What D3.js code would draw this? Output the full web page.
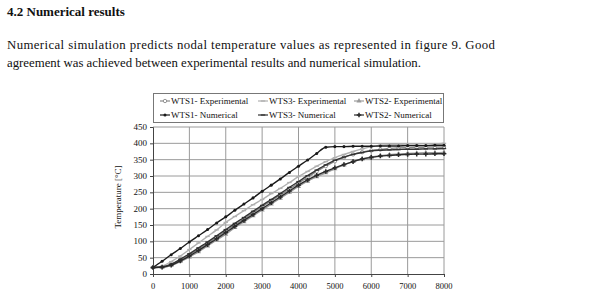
<!DOCTYPE html>
<html>
<head>
<meta charset="utf-8">
<script src="https://cdn.jsdelivr.net/npm/d3@7"></script>
<style>
  html, body { margin: 0; padding: 0; background: #fff; overflow: hidden; }
  svg { display: block; }
  text { font-family: "Liberation Serif", "Times New Roman", serif; fill: #111; }
</style>
</head>
<body>
<div id="chart"></div>
<script>
const times = [0, 250, 500, 750, 1000, 1250, 1500, 1750, 2000, 2250, 2500, 2750, 3000, 3250, 3500, 3750,
    4000, 4250, 4500, 4750, 5000, 5250, 5500, 5750, 6000, 6250, 6500, 6750, 7000, 7250, 7500, 7750, 8000]

const wts1Exp = [20, 21, 29, 43, 58, 76, 94, 112, 132, 150, 168, 188, 206, 224, 242, 260,
    278, 296, 314, 330, 345, 357, 366, 373, 378, 381, 384, 386, 387, 388, 388, 389, 389]
const wts3Exp = [20, 24, 38, 55, 75, 95, 115, 135, 158, 176, 194, 212, 228, 246, 262, 280,
    298, 314, 330, 344, 356, 366, 375, 383, 390, 394, 396, 397, 398, 398, 399, 399, 400]
const wts2Exp = [20, 20, 26, 38, 52, 68, 86, 104, 122, 142, 160, 178, 196, 214, 232, 250,
    268, 284, 298, 310, 322, 334, 344, 352, 358, 362, 365, 367, 369, 370, 371, 371, 372]
const wts1Num = [20, 39, 59, 78, 98, 117, 136, 156, 175, 195, 214, 233, 253, 272, 291, 311,
    330, 349, 369, 388, 390, 390, 391, 391, 391, 392, 392, 392, 393, 393, 393, 394, 394]
const wts3Num = [20, 22, 30, 45, 62, 80, 98, 117, 136, 155, 173, 192, 210, 228, 246, 265,
    283, 301, 318, 334, 348, 358, 366, 372, 377, 379, 380, 381, 382, 382, 383, 383, 384]
const wts2Num = [20, 21, 27, 40, 55, 72, 90, 108, 127, 146, 164, 182, 200, 218, 236, 254,
    272, 288, 302, 314, 325, 335, 344, 352, 357, 361, 363, 365, 366, 367, 367, 368, 368]

const xTicks = [0, 1000, 2000, 3000, 4000, 5000, 6000, 7000, 8000]
const yTicks = [0, 50, 100, 150, 200, 250, 300, 350, 400, 450]

const series = [
    { name: "WTS1- Experimental", values: wts1Exp, color: "#8a8a8a", marker: "circle" },
    { name: "WTS3- Experimental", values: wts3Exp, color: "#b0b0b0", marker: "dash" },
    { name: "WTS2- Experimental", values: wts2Exp, color: "#9a9a9a", marker: "tri" },
    { name: "WTS1- Numerical", values: wts1Num, color: "#1a1a1a", marker: "dot" },
    { name: "WTS3- Numerical", values: wts3Num, color: "#333", marker: "dash" },
    { name: "WTS2- Numerical", values: wts2Num, color: "#2a2a2a", marker: "plus" }
]

const width = 603
const height = 296
const margin = { top: 127, left: 153, right: 159, bottom: 22 }
const innerWidth = width - margin.left - margin.right
const innerHeight = height - margin.top - margin.bottom

const svg = d3.select("#chart")
    .append("svg")
    .attr("width", width)
    .attr("height", height)

// heading + paragraph
svg.append("text")
    .attr("x", 7).attr("y", 15.5)
    .style("font-size", "13px").style("font-weight", "bold")
    .text("4.2 Numerical results")
svg.append("text")
    .attr("x", 7).attr("y", 48.5)
    .attr("textLength", 488).attr("lengthAdjust", "spacing")
    .style("font-size", "12.8px")
    .text("Numerical simulation predicts nodal temperature values as represented in figure 9. Good")
svg.append("text")
    .attr("x", 7).attr("y", 66.5)
    .style("font-size", "12.8px")
    .text("agreement was achieved between experimental results and numerical simulation.")

const xScale = d3.scaleLinear().domain([0, 8000]).range([margin.left, margin.left + innerWidth])
const yScale = d3.scaleLinear().domain([0, 450]).range([margin.top + innerHeight, margin.top])

const g = svg.append("g")

// grid
g.append("g").selectAll("line")
    .data(xTicks.slice(1))
    .join("line")
    .attr("x1", d => xScale(d)).attr("x2", d => xScale(d))
    .attr("y1", margin.top).attr("y2", margin.top + innerHeight)
    .attr("stroke", "#9a9a9a").attr("stroke-width", 1)
g.append("g").selectAll("line")
    .data(yTicks.slice(1))
    .join("line")
    .attr("x1", margin.left).attr("x2", margin.left + innerWidth)
    .attr("y1", d => yScale(d)).attr("y2", d => yScale(d))
    .attr("stroke", "#9a9a9a").attr("stroke-width", 1)

// axes (lines + ticks from d3 axis, labels placed directly)
const xAxis = d3.axisBottom(xScale).tickValues(xTicks).tickFormat("").tickSize(3)
const yAxis = d3.axisLeft(yScale).tickValues(yTicks).tickFormat("").tickSize(3)

g.append("g")
    .attr("transform", `translate(0,${margin.top + innerHeight})`)
    .call(xAxis)
    .call(s => s.selectAll("line,path").attr("stroke", "#444"))
g.append("g")
    .attr("transform", `translate(${margin.left},0)`)
    .call(yAxis)
    .call(s => s.selectAll("line,path").attr("stroke", "#444"))

g.append("g").selectAll("text")
    .data(xTicks)
    .join("text")
    .attr("x", d => xScale(d))
    .attr("y", margin.top + innerHeight + 15)
    .attr("text-anchor", "middle")
    .style("font-size", "8.5px")
    .text(d3.format("d"))
g.append("g").selectAll("text")
    .data(yTicks)
    .join("text")
    .attr("x", margin.left - 6)
    .attr("y", d => yScale(d) + 3)
    .attr("text-anchor", "end")
    .style("font-size", "9px")
    .text(d => d)

svg.append("text")
    .attr("transform", `translate(121,${margin.top + 70}) rotate(-90)`)
    .attr("text-anchor", "middle")
    .style("font-size", "9px")
    .text("Temperature [°C]")

// markers
const drawMarker = (sel, type, color, size) => {
    if (type === "circle") {
        sel.append("circle").attr("r", size).attr("fill", "#fff").attr("stroke", color).attr("stroke-width", 0.9)
    } else if (type === "dot") {
        sel.append("circle").attr("r", size * 0.9).attr("fill", color)
    } else if (type === "dash") {
        sel.append("line").attr("x1", -size - 0.5).attr("x2", size + 0.5).attr("stroke", color).attr("stroke-width", 1.3)
    } else if (type === "tri") {
        sel.append("path").attr("d", d3.symbol(d3.symbolTriangle, size * size * 4)).attr("fill", color)
    } else if (type === "plus") {
        sel.append("path").attr("d", d3.symbol(d3.symbolCross, size * size * 4)).attr("fill", color)
    }
}

const line = d3.line()
    .x((d, i) => xScale(times[i]))
    .y(d => yScale(d))
    .curve(d3.curveMonotoneX)

series.forEach(s => {
    g.append("path")
        .datum(s.values)
        .attr("d", line)
        .attr("fill", "none")
        .attr("stroke", s.color)
        .attr("stroke-width", 1.4)
    g.append("g").selectAll("g")
        .data(s.values)
        .join("g")
        .attr("transform", (d, i) => `translate(${xScale(times[i])},${yScale(d)})`)
        .each(function () { drawMarker(d3.select(this), s.marker, s.color, 1.7) })
})

// legend
const legend = svg.append("g")
legend.append("rect")
    .attr("x", 153.5).attr("y", 93.5)
    .attr("width", 290).attr("height", 29)
    .attr("fill", "#fff").attr("stroke", "#777").attr("stroke-width", 1)

const legendX = [160, 258, 354]
const legendY = [101, 115]
series.forEach((s, i) => {
    const lx = legendX[i % 3]
    const ly = legendY[Math.floor(i / 3)]
    legend.append("line")
        .attr("x1", lx).attr("x2", lx + 10)
        .attr("y1", ly).attr("y2", ly)
        .attr("stroke", s.color).attr("stroke-width", 1.2)
    drawMarker(legend.append("g").attr("transform", `translate(${lx + 5},${ly})`), s.marker, s.color, 1.7)
    legend.append("text")
        .attr("x", lx + 11).attr("y", ly + 3)
        .style("font-size", "9px")
        .text(s.name)
})
</script>
</body>
</html>
